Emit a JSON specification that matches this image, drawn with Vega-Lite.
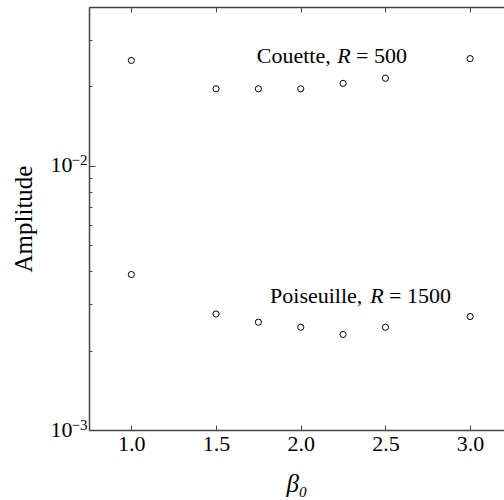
{
  "$schema": "https://vega.github.io/schema/vega-lite/v6.json",
  "width": 415,
  "height": 423,
  "autosize": "none",
  "padding": {"left": 89, "top": 7, "right": 0, "bottom": 70},
  "config": {
    "view": {"stroke": null},
    "font": "Liberation Serif",
    "axis": {
      "domainColor": "#444",
      "domainWidth": 1.5,
      "tickColor": "#444",
      "tickWidth": 1,
      "grid": false,
      "labelFont": "Liberation Serif",
      "labelFontSize": 22,
      "labelColor": "black",
      "titleFont": "Liberation Serif",
      "titleColor": "black",
      "titleFontWeight": "normal"
    }
  },
  "layer": [
    {
      "data": {
        "values": [
          {"case": "Couette", "beta": 1.0, "amplitude": 0.0251},
          {"case": "Couette", "beta": 1.5, "amplitude": 0.0196},
          {"case": "Couette", "beta": 1.75, "amplitude": 0.0196},
          {"case": "Couette", "beta": 2.0, "amplitude": 0.0196},
          {"case": "Couette", "beta": 2.25, "amplitude": 0.02055},
          {"case": "Couette", "beta": 2.5, "amplitude": 0.0215},
          {"case": "Couette", "beta": 3.0, "amplitude": 0.0255},
          {"case": "Poiseuille", "beta": 1.0, "amplitude": 0.00388},
          {"case": "Poiseuille", "beta": 1.5, "amplitude": 0.00275},
          {"case": "Poiseuille", "beta": 1.75, "amplitude": 0.00256},
          {"case": "Poiseuille", "beta": 2.0, "amplitude": 0.00245},
          {"case": "Poiseuille", "beta": 2.25, "amplitude": 0.0023},
          {"case": "Poiseuille", "beta": 2.5, "amplitude": 0.00245},
          {"case": "Poiseuille", "beta": 3.0, "amplitude": 0.00269}
        ]
      },
      "mark": {"type": "point", "shape": "circle", "filled": false, "color": "black", "size": 38, "strokeWidth": 1, "opacity": 1},
      "encoding": {
        "x": {
          "field": "beta", "type": "quantitative",
          "scale": {"domain": [0.75, 3.2], "nice": false, "zero": false},
          "axis": {
            "orient": "bottom",
            "values": [1.0, 1.5, 2.0, 2.5, 3.0],
            "format": ".1f",
            "tickSize": -5,
            "labelPadding": 8,
            "title": "β₀",
            "titleFontSize": 25,
            "titleFontStyle": "italic",
            "titlePadding": 17
          }
        },
        "y": {
          "field": "amplitude", "type": "quantitative",
          "scale": {"type": "log", "domain": [0.001, 0.04], "nice": false},
          "axis": {
            "orient": "left",
            "values": [0.001, 0.002, 0.003, 0.004, 0.005, 0.006, 0.007, 0.008, 0.009, 0.01, 0.02, 0.03, 0.04],
            "labelExpr": "datum.value == 0.01 || datum.value == 0.001 ? '10' : ''",
            "tickSize": {"condition": {"test": "datum.value == 0.01 || datum.value == 0.001", "value": -6}, "value": -3},
            "labelPadding": 23,
            "labelBaseline": "middle",
            "labelOffset": -1,
            "title": "Amplitude",
            "titleFontSize": 25,
            "titlePadding": 14
          }
        }
      }
    },
    {
      "data": {"values": [{"beta": 1.0, "amplitude": 0.01}]},
      "mark": {"type": "point", "opacity": 0},
      "encoding": {
        "x": {
          "field": "beta", "type": "quantitative",
          "axis": {
            "orient": "top",
            "values": [1.0, 1.5, 2.0, 2.5, 3.0],
            "tickSize": -5,
            "labels": false,
            "title": null
          }
        },
        "y": {
          "field": "amplitude", "type": "quantitative",
          "axis": {
            "orient": "left",
            "values": [0.001, 0.01],
            "labelExpr": "datum.value == 0.01 ? '−2' : '−3'",
            "ticks": false,
            "domain": false,
            "labelFontSize": 15,
            "labelPadding": 2,
            "labelBaseline": "middle",
            "labelOffset": -6,
            "title": null
          }
        }
      }
    },
    {
      "data": {
        "values": [
          {"beta": 1.7403, "amplitude": 0.02444, "t": "Couette,"},
          {"beta": 1.8188, "amplitude": 0.00304, "t": "Poiseuille,"}
        ]
      },
      "mark": {"type": "text", "align": "left", "baseline": "alphabetic", "fontSize": 22, "font": "Liberation Serif", "color": "black"},
      "encoding": {
        "x": {"field": "beta", "type": "quantitative", "axis": null},
        "y": {"field": "amplitude", "type": "quantitative", "axis": null},
        "text": {"field": "t"}
      }
    },
    {
      "data": {
        "values": [
          {"beta": 2.2161, "amplitude": 0.02444, "t": "R"},
          {"beta": 2.4109, "amplitude": 0.00304, "t": "R"}
        ]
      },
      "mark": {"type": "text", "align": "left", "baseline": "alphabetic", "fontSize": 22, "font": "Liberation Serif", "fontStyle": "italic", "color": "black"},
      "encoding": {
        "x": {"field": "beta", "type": "quantitative", "axis": null},
        "y": {"field": "amplitude", "type": "quantitative", "axis": null},
        "text": {"field": "t"}
      }
    },
    {
      "data": {
        "values": [
          {"beta": 2.3265, "amplitude": 0.02444, "t": "= 500"},
          {"beta": 2.5213, "amplitude": 0.00304, "t": "= 1500"}
        ]
      },
      "mark": {"type": "text", "align": "left", "baseline": "alphabetic", "fontSize": 22, "font": "Liberation Serif", "color": "black"},
      "encoding": {
        "x": {"field": "beta", "type": "quantitative", "axis": null},
        "y": {"field": "amplitude", "type": "quantitative", "axis": null},
        "text": {"field": "t"}
      }
    }
  ],
  "resolve": {"axis": {"x": "independent", "y": "independent"}}
}
